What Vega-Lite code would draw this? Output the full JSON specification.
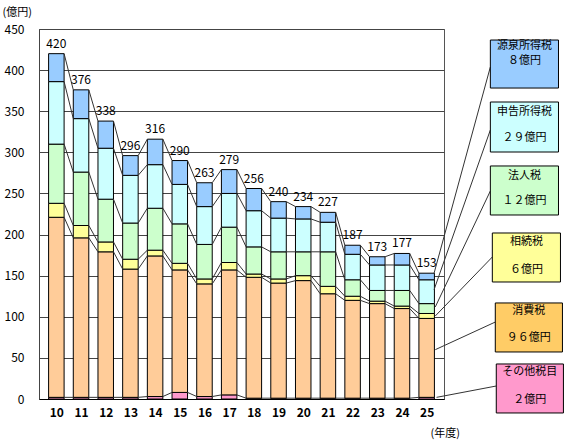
{
  "$schema": "https://vega.github.io/schema/vega-lite/v6.json",
  "width": 405,
  "height": 370,
  "autosize": {"type": "none"},
  "padding": {"left": 39, "top": 29, "right": 136, "bottom": 42},
  "background": "white",
  "config": {
    "font": "Noto Sans CJK JP",
    "view": {"stroke": "#555", "strokeWidth": 1},
    "axisX": {"ticks": false, "grid": false, "domain": true, "domainColor": "#000",
      "labelOverlap": false, "labelFlush": false, "labelBound": false,
      "labelFontWeight": "bold", "labelFontSize": 12, "labelPadding": 8, "labelColor": "#000",
      "titleFontSize": 11, "titleFontWeight": "normal", "titleColor": "#000",
      "titleX": 391, "titleY": 34, "titleAlign": "left", "titleBaseline": "middle"},
    "axisY": {"ticks": false, "grid": true, "gridColor": "#444", "gridWidth": 1, "domain": true, "domainColor": "#444",
      "labelOverlap": false, "labelFlush": false,
      "labelFontSize": 12, "labelPadding": 15, "labelColor": "#000",
      "titleFontSize": 11, "titleFontWeight": "normal", "titleColor": "#000", "titleAngle": 0,
      "titleX": -37, "titleY": -17, "titleAlign": "left", "titleBaseline": "middle"}
  },
  "datasets": {
    "tax": [
      {"year":10,"cat":"その他税目","v":2},{"year":10,"cat":"消費税","v":219},{"year":10,"cat":"相続税","v":17},{"year":10,"cat":"法人税","v":72},{"year":10,"cat":"申告所得税","v":76},{"year":10,"cat":"源泉所得税","v":34},
      {"year":11,"cat":"その他税目","v":2},{"year":11,"cat":"消費税","v":194},{"year":11,"cat":"相続税","v":15},{"year":11,"cat":"法人税","v":65},{"year":11,"cat":"申告所得税","v":65},{"year":11,"cat":"源泉所得税","v":35},
      {"year":12,"cat":"その他税目","v":2},{"year":12,"cat":"消費税","v":177},{"year":12,"cat":"相続税","v":12},{"year":12,"cat":"法人税","v":52},{"year":12,"cat":"申告所得税","v":62},{"year":12,"cat":"源泉所得税","v":33},
      {"year":13,"cat":"その他税目","v":2},{"year":13,"cat":"消費税","v":156},{"year":13,"cat":"相続税","v":12},{"year":13,"cat":"法人税","v":44},{"year":13,"cat":"申告所得税","v":58},{"year":13,"cat":"源泉所得税","v":24},
      {"year":14,"cat":"その他税目","v":3},{"year":14,"cat":"消費税","v":171},{"year":14,"cat":"相続税","v":7},{"year":14,"cat":"法人税","v":51},{"year":14,"cat":"申告所得税","v":53},{"year":14,"cat":"源泉所得税","v":31},
      {"year":15,"cat":"その他税目","v":8},{"year":15,"cat":"消費税","v":149},{"year":15,"cat":"相続税","v":8},{"year":15,"cat":"法人税","v":48},{"year":15,"cat":"申告所得税","v":48},{"year":15,"cat":"源泉所得税","v":29},
      {"year":16,"cat":"その他税目","v":3},{"year":16,"cat":"消費税","v":137},{"year":16,"cat":"相続税","v":6},{"year":16,"cat":"法人税","v":42},{"year":16,"cat":"申告所得税","v":46},{"year":16,"cat":"源泉所得税","v":29},
      {"year":17,"cat":"その他税目","v":5},{"year":17,"cat":"消費税","v":152},{"year":17,"cat":"相続税","v":9},{"year":17,"cat":"法人税","v":43},{"year":17,"cat":"申告所得税","v":41},{"year":17,"cat":"源泉所得税","v":29},
      {"year":18,"cat":"その他税目","v":1},{"year":18,"cat":"消費税","v":147},{"year":18,"cat":"相続税","v":4},{"year":18,"cat":"法人税","v":33},{"year":18,"cat":"申告所得税","v":44},{"year":18,"cat":"源泉所得税","v":27},
      {"year":19,"cat":"その他税目","v":1},{"year":19,"cat":"消費税","v":140},{"year":19,"cat":"相続税","v":5},{"year":19,"cat":"法人税","v":33},{"year":19,"cat":"申告所得税","v":41},{"year":19,"cat":"源泉所得税","v":20},
      {"year":20,"cat":"その他税目","v":1},{"year":20,"cat":"消費税","v":143},{"year":20,"cat":"相続税","v":6},{"year":20,"cat":"法人税","v":29},{"year":20,"cat":"申告所得税","v":40},{"year":20,"cat":"源泉所得税","v":15},
      {"year":21,"cat":"その他税目","v":1},{"year":21,"cat":"消費税","v":127},{"year":21,"cat":"相続税","v":9},{"year":21,"cat":"法人税","v":42},{"year":21,"cat":"申告所得税","v":36},{"year":21,"cat":"源泉所得税","v":12},
      {"year":22,"cat":"その他税目","v":1},{"year":22,"cat":"消費税","v":119},{"year":22,"cat":"相続税","v":5},{"year":22,"cat":"法人税","v":20},{"year":22,"cat":"申告所得税","v":31},{"year":22,"cat":"源泉所得税","v":11},
      {"year":23,"cat":"その他税目","v":1},{"year":23,"cat":"消費税","v":115},{"year":23,"cat":"相続税","v":3},{"year":23,"cat":"法人税","v":13},{"year":23,"cat":"申告所得税","v":31},{"year":23,"cat":"源泉所得税","v":10},
      {"year":24,"cat":"その他税目","v":1},{"year":24,"cat":"消費税","v":109},{"year":24,"cat":"相続税","v":3},{"year":24,"cat":"法人税","v":19},{"year":24,"cat":"申告所得税","v":31},{"year":24,"cat":"源泉所得税","v":14},
      {"year":25,"cat":"その他税目","v":2},{"year":25,"cat":"消費税","v":96},{"year":25,"cat":"相続税","v":6},{"year":25,"cat":"法人税","v":12},{"year":25,"cat":"申告所得税","v":29},{"year":25,"cat":"源泉所得税","v":8}
    ],
    "cats": [
      {"cat":"源泉所得税","ord":6,"label":"８億円","x0":27.58,"x1":30.34,"top":436.6,"bot":378.2,"tx":28.96,"ny":429.3,"vy":411.1,"ly":403.8,"ax":25.3,"ay":153},
      {"cat":"申告所得税","ord":5,"label":"２９億円","x0":27.58,"x1":30.34,"top":361.2,"bot":300.4,"tx":28.96,"ny":349.0,"vy":317.4,"ly":327.2,"ax":25.3,"ay":133},
      {"cat":"法人税","ord":4,"label":"１２億円","x0":27.58,"x1":30.34,"top":283.4,"bot":223.8,"tx":28.96,"ny":271.2,"vy":240.8,"ly":253.0,"ax":25.35,"ay":112},
      {"cat":"相続税","ord":3,"label":"６億円","x0":27.66,"x1":30.42,"top":201.9,"bot":142.3,"tx":29.04,"ny":191.0,"vy":156.9,"ly":172.7,"ax":25.35,"ay":101},
      {"cat":"消費税","ord":2,"label":"９６億円","x0":27.78,"x1":30.5,"top":116.8,"bot":57.2,"tx":29.14,"ny":107.0,"vy":74.2,"ly":93.6,"ax":25.35,"ay":60},
      {"cat":"その他税目","ord":1,"label":"２億円","x0":27.82,"x1":30.54,"top":42.6,"bot":-17.0,"tx":29.18,"ny":32.8,"vy":-1.2,"ly":15.8,"ax":25.4,"ay":2}
    ]
  },
  "data": {"name": "tax"},
  "layer": [
    {
      "transform": [
        {"lookup": "cat", "from": {"data": {"name": "cats"}, "key": "cat", "fields": ["ord"]}},
        {"stack": "v", "groupby": ["year"], "sort": [{"field": "ord", "order": "ascending"}], "as": ["y0", "y1"]}
      ],
      "mark": {"type": "bar", "width": 15.5, "stroke": "#000", "strokeWidth": 1},
      "encoding": {
        "x": {"field": "year", "type": "quantitative",
          "scale": {"domain": [9.5, 25.5], "nice": false, "zero": false},
          "axis": {"values": [10,11,12,13,14,15,16,17,18,19,20,21,22,23,24,25], "format": "d", "title": "(年度)"}},
        "y": {"field": "y0", "type": "quantitative",
          "scale": {"domain": [0, 450], "nice": false, "zero": false},
          "axis": {"values": [0,50,100,150,200,250,300,350,400,450], "title": "(億円)"}},
        "y2": {"field": "y1"},
        "color": {"field": "cat", "type": "nominal",
          "scale": {"domain": ["源泉所得税","申告所得税","法人税","相続税","消費税","その他税目"],
                    "range": ["#99CCFF","#CCFFFF","#CCFFCC","#FFFF99","#FFCC99","#FF99CC"]},
          "legend": null}
      }
    },
    {
      "transform": [
        {"lookup": "cat", "from": {"data": {"name": "cats"}, "key": "cat", "fields": ["ord"]}},
        {"stack": "v", "groupby": ["year"], "sort": [{"field": "ord", "order": "ascending"}], "as": ["y0", "y1"]},
        {"window": [{"op": "lead", "field": "y1", "as": "ny1"}, {"op": "lead", "field": "year", "as": "nyear"}],
         "groupby": ["cat"], "sort": [{"field": "year", "order": "ascending"}]},
        {"filter": "datum.nyear != null"}
      ],
      "mark": {"type": "rule", "xOffset": 7.75, "x2Offset": -7.75, "color": "#333", "strokeWidth": 1},
      "encoding": {
        "x": {"field": "year", "type": "quantitative", "scale": {"domain": [9.5, 25.5], "nice": false, "zero": false},
          "axis": {"values": [10,11,12,13,14,15,16,17,18,19,20,21,22,23,24,25], "format": "d", "title": "(年度)"}},
        "x2": {"field": "nyear"},
        "y": {"field": "y1", "type": "quantitative", "scale": {"domain": [0, 450], "nice": false, "zero": false},
          "axis": {"values": [0,50,100,150,200,250,300,350,400,450], "title": "(億円)"}},
        "y2": {"field": "ny1"}
      }
    },
    {
      "transform": [{"aggregate": [{"op": "sum", "field": "v", "as": "total"}], "groupby": ["year"]}],
      "mark": {"type": "text", "baseline": "bottom", "dy": -3, "fontSize": 12, "color": "#000"},
      "encoding": {
        "x": {"field": "year", "type": "quantitative", "scale": {"domain": [9.5, 25.5], "nice": false, "zero": false},
          "axis": {"values": [10,11,12,13,14,15,16,17,18,19,20,21,22,23,24,25], "format": "d", "title": "(年度)"}},
        "y": {"field": "total", "type": "quantitative", "scale": {"domain": [0, 450], "nice": false, "zero": false},
          "axis": {"values": [0,50,100,150,200,250,300,350,400,450], "title": "(億円)"}},
        "text": {"field": "total", "type": "quantitative"}
      }
    },
    {
      "data": {"name": "cats"},
      "mark": {"type": "rule", "color": "#333", "strokeWidth": 1},
      "encoding": {
        "x": {"field": "ax", "type": "quantitative", "scale": {"domain": [9.5, 25.5], "nice": false, "zero": false},
          "axis": {"values": [10,11,12,13,14,15,16,17,18,19,20,21,22,23,24,25], "format": "d", "title": "(年度)"}},
        "x2": {"field": "x0"},
        "y": {"field": "ay", "type": "quantitative", "scale": {"domain": [0, 450], "nice": false, "zero": false},
          "axis": {"values": [0,50,100,150,200,250,300,350,400,450], "title": "(億円)"}},
        "y2": {"field": "ly"}
      }
    },
    {
      "data": {"name": "cats"},
      "mark": {"type": "rect", "stroke": "#000", "strokeWidth": 1},
      "encoding": {
        "x": {"field": "x0", "type": "quantitative", "scale": {"domain": [9.5, 25.5], "nice": false, "zero": false},
          "axis": {"values": [10,11,12,13,14,15,16,17,18,19,20,21,22,23,24,25], "format": "d", "title": "(年度)"}},
        "x2": {"field": "x1"},
        "y": {"field": "top", "type": "quantitative", "scale": {"domain": [0, 450], "nice": false, "zero": false},
          "axis": {"values": [0,50,100,150,200,250,300,350,400,450], "title": "(億円)"}},
        "y2": {"field": "bot"},
        "fill": {"field": "cat", "type": "nominal",
          "scale": {"domain": ["源泉所得税","申告所得税","法人税","相続税","消費税","その他税目"],
                    "range": ["#99CCFF","#CCFFFF","#CCFFCC","#FFFF99","#FFCC66","#FF99CC"]},
          "legend": null}
      }
    },
    {
      "data": {"name": "cats"},
      "mark": {"type": "text", "baseline": "middle", "align": "center", "fontSize": 11, "color": "#000"},
      "encoding": {
        "x": {"field": "tx", "type": "quantitative", "scale": {"domain": [9.5, 25.5], "nice": false, "zero": false},
          "axis": {"values": [10,11,12,13,14,15,16,17,18,19,20,21,22,23,24,25], "format": "d", "title": "(年度)"}},
        "y": {"field": "ny", "type": "quantitative", "scale": {"domain": [0, 450], "nice": false, "zero": false},
          "axis": {"values": [0,50,100,150,200,250,300,350,400,450], "title": "(億円)"}},
        "text": {"field": "cat"}
      }
    },
    {
      "data": {"name": "cats"},
      "mark": {"type": "text", "baseline": "middle", "align": "center", "fontSize": 11, "color": "#000"},
      "encoding": {
        "x": {"field": "tx", "type": "quantitative", "scale": {"domain": [9.5, 25.5], "nice": false, "zero": false},
          "axis": {"values": [10,11,12,13,14,15,16,17,18,19,20,21,22,23,24,25], "format": "d", "title": "(年度)"}},
        "y": {"field": "vy", "type": "quantitative", "scale": {"domain": [0, 450], "nice": false, "zero": false},
          "axis": {"values": [0,50,100,150,200,250,300,350,400,450], "title": "(億円)"}},
        "text": {"field": "label"}
      }
    }
  ]
}
